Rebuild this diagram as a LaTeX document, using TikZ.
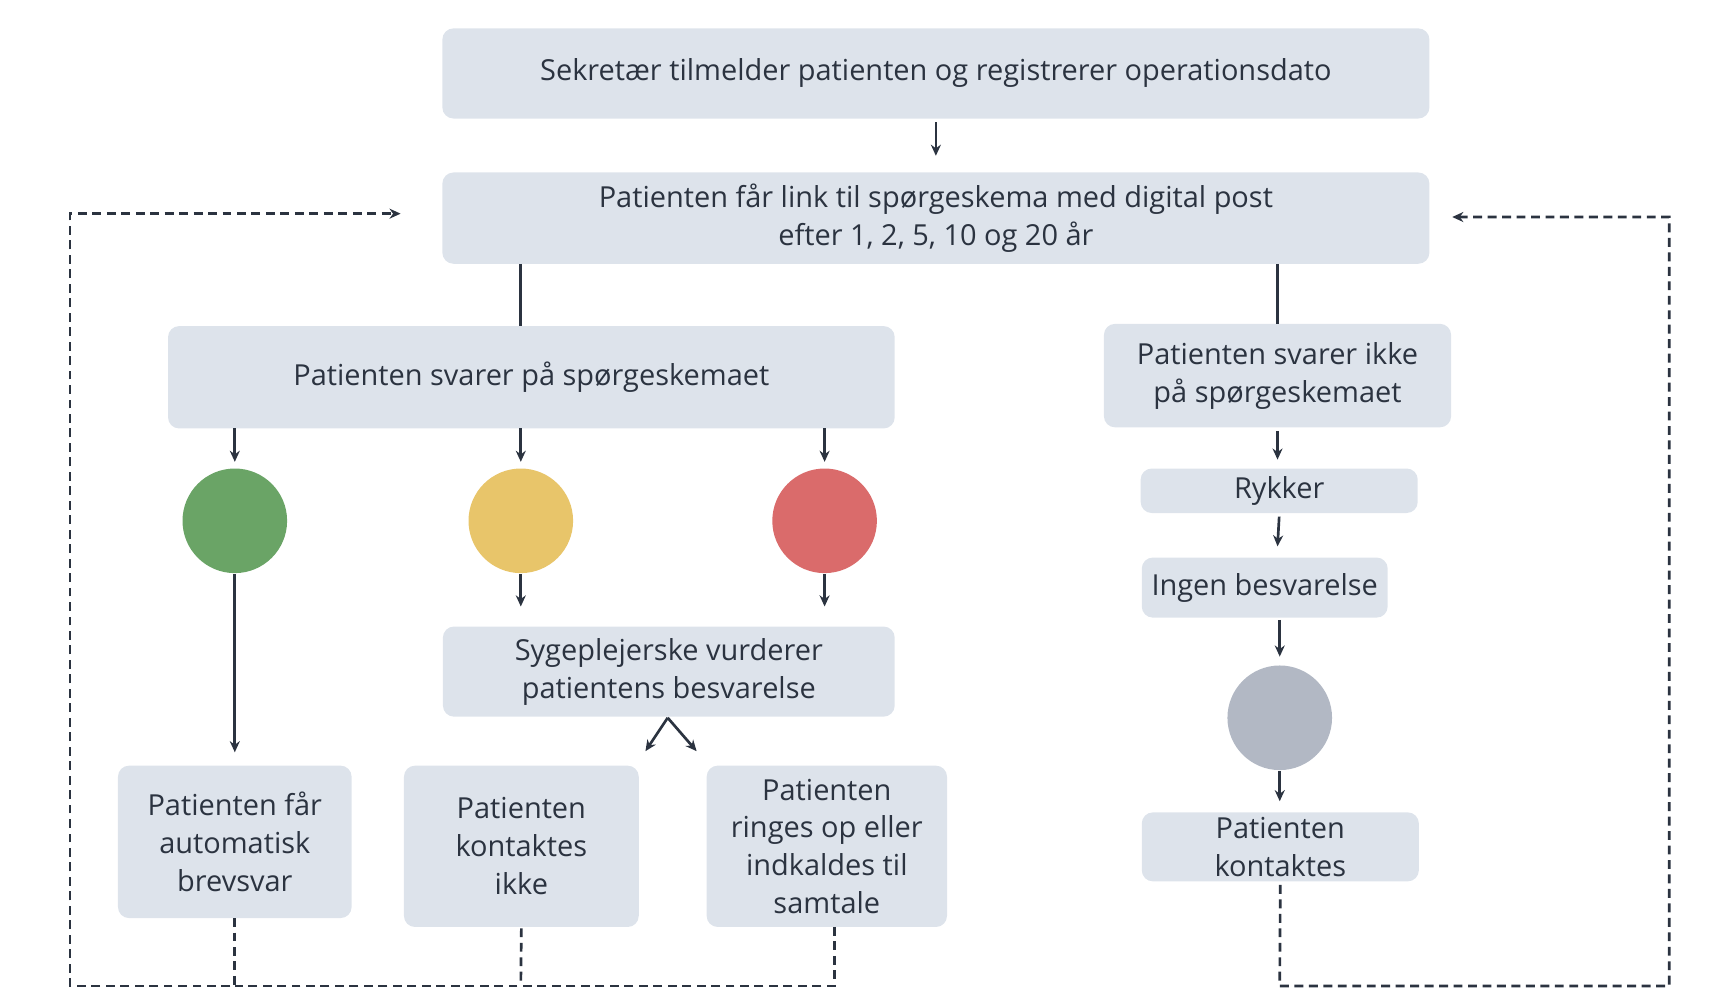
\documentclass[tikz,border=0pt]{standalone}
\usepackage{fontspec}
\setmainfont{Open Sans}
\usetikzlibrary{arrows.meta}
\definecolor{boxfill}{HTML}{DDE3EB}
\definecolor{ink}{HTML}{2B3340}
\definecolor{dotgreen}{HTML}{6AA466}
\definecolor{dotyellow}{HTML}{E8C56A}
\definecolor{dotred}{HTML}{DA6B6B}
\definecolor{dotgrey}{HTML}{B2B8C4}
\tikzset{every picture/.style={line width=1.2pt}}
\tikzset{
  box/.style={fill=boxfill,rounded corners=5pt,align=center,text=ink,font=\fontsize{13}{17}\selectfont,inner sep=0pt},
  dot/.style={circle,minimum size=47pt,inner sep=0pt},
  arr/.style={draw=ink,-{Stealth[length=5pt,width=4.5pt]}},
  link/.style={draw=ink},
  back/.style={draw=ink,dashed,dash pattern=on 4pt off 2.5pt}
}

\begin{document}
\begin{tikzpicture}[x=0.5pt,y=0.5pt,yscale=-1,xscale=1]
\useasboundingbox (0,0) rectangle (1560,902);

% boxes
\node[box,minimum width=443.5pt,minimum height=40.5pt] (reg) at (841,66) {Sekretær tilmelder patienten og registrerer operationsdato};
\node[box,minimum width=443.5pt,minimum height=41pt] (link) at (841,196) {Patienten får link til spørgeskema med digital post\\efter 1, 2, 5, 10 og 20 år};
\node[box,minimum width=326.5pt,minimum height=46pt] (svar) at (477.5,339) {Patienten svarer på spørgeskemaet};
\node[box,minimum width=156pt,minimum height=46.5pt] (ikke) at (1148,337.5) {Patienten svarer ikke\\på spørgeskemaet};
\node[box,minimum width=124.5pt,minimum height=20pt] (rykker) at (1149.5,441) {Rykker};
\node[box,minimum width=110.5pt,minimum height=27pt] (ingen) at (1136.5,528) {Ingen besvarelse};
\node[box,minimum width=124.5pt,minimum height=31pt] (kont) at (1150.5,761) {Patienten\\kontaktes};
\node[box,minimum width=203pt,minimum height=40.5pt] (syg) at (601,603.5) {Sygeplejerske vurderer\\patientens besvarelse};
\node[box,minimum width=105pt,minimum height=68.5pt] (auto) at (211,756.5) {Patienten får\\automatisk\\brevsvar};
\node[box,minimum width=105.5pt,minimum height=72.5pt] (ingenk) at (468.5,760.5) {Patienten\\kontaktes\\ikke};
\node[box,minimum width=108pt,minimum height=72.5pt] (ring) at (743,760.5) {Patienten\\ringes op eller\\indkaldes til\\samtale};

% dots
\node[dot,fill=dotgreen] (green) at (211,468) {};
\node[dot,fill=dotyellow] (yellow) at (468,468) {};
\node[dot,fill=dotred] (red) at (741,468) {};
\node[dot,fill=dotgrey] (grey) at (1150,645) {};

% connectors
\draw[arr] (reg.south) ++(0,2) -- (841,140);
\draw[link] (468,237) -- (468,293);
\draw[link] (1148,237) -- (1148,291);
\draw[arr] (211,385) -- (211,415);
\draw[arr] (468,385) -- (468,415);
\draw[arr] (741,385) -- (741,415);
\draw[arr] (green.south) -- (211,676);
\draw[arr] (yellow.south) -- (468,545);
\draw[arr] (red.south) -- (741,545);
\draw[arr] (600,645) -- (580,675);
\draw[arr] (600,645) -- (626,675);
\draw[arr] (ikke.south) ++(0,2) -- (1148,413);
\draw[arr] (rykker.south) ++(0,2) -- (1148,491);
\draw[arr] (1150,557) -- (1150,590);
\draw[arr] (grey.south) -- (1150,720);

% return loops
\draw[back,-{Stealth[length=5pt,width=4.5pt]}] (211,825) -- (211,886) -- (63,886) -- (63,192) -- (360,192);
\draw[back] (ingenk.south) -- (468,886);
\draw[back] (750,833) -- (750,886) -- (211,886);
\draw[back,-{Stealth[length=5pt,width=4.5pt]}] (kont.south) ++(0,2) -- (1150,886) -- (1500,886) -- (1500,195) -- (1305,195);

\end{tikzpicture}
\end{document}
